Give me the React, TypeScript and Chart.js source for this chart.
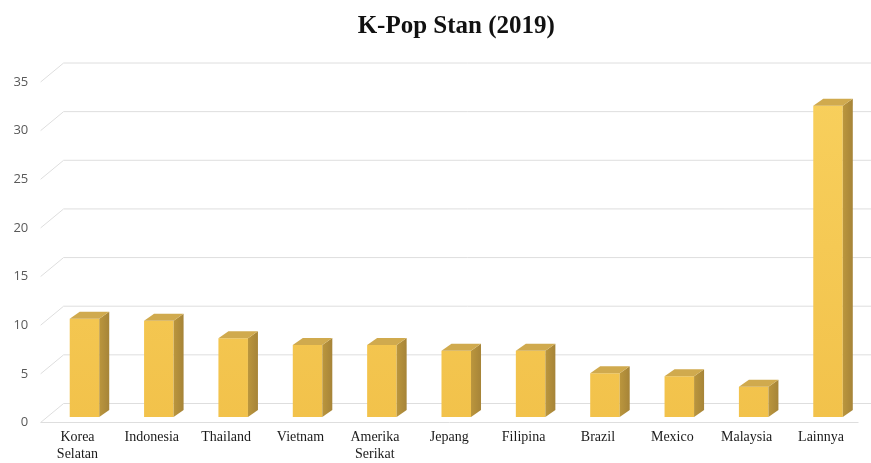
import React, { useEffect, useRef } from "react";
import { Chart, registerables } from "chart.js";

Chart.register(...registerables);

const titleText = "K-Pop Stan (2019)";
const categories: (string | string[])[] = [
  ["Korea", "Selatan"],
  "Indonesia",
  "Thailand",
  "Vietnam",
  ["Amerika", "Serikat"],
  "Jepang",
  "Filipina",
  "Brazil",
  "Mexico",
  "Malaysia",
  "Lainnya",
];
const values = [10.1, 9.9, 8.1, 7.4, 7.4, 6.8, 6.8, 4.5, 4.2, 3.1, 32];
const yMin = 0;
const yMax = 35;
const yStep = 5;

// 3D geometry (pixels)
const BAR_DX = 10;
const BAR_DY = -7;
const FRONT_DX = -6.7; // bar plane -> front edge of floor
const FRONT_DY = 5.5;
const BACK_DX = 16.3; // bar plane -> back wall
const BACK_DY = -13.5;

const gridColor = "#dedede";

const threeD = {
  id: "threeD",
  beforeDatasetsDraw(chart: any) {
    const { ctx, chartArea, scales } = chart;
    const ys = scales.y;
    ctx.save();
    ctx.lineWidth = 1;
    ctx.strokeStyle = gridColor;
    for (let v = yMin; v <= yMax; v += yStep) {
      const y = ys.getPixelForValue(v);
      const fx = chartArea.left + FRONT_DX;
      const fy = y + FRONT_DY;
      const bx = chartArea.left + BACK_DX;
      const by = y + BACK_DY;
      ctx.beginPath();
      ctx.moveTo(fx, fy);
      ctx.lineTo(bx, by);
      ctx.lineTo(chart.width + 20, by);
      ctx.stroke();
    }
    // front edge of floor
    const y0 = ys.getPixelForValue(0);
    ctx.beginPath();
    ctx.moveTo(chartArea.left + FRONT_DX, y0 + FRONT_DY);
    ctx.lineTo(chartArea.right + FRONT_DX, y0 + FRONT_DY);
    ctx.stroke();
    ctx.restore();
  },
  afterDatasetsDraw(chart: any) {
    const { ctx } = chart;
    const meta = chart.getDatasetMeta(0);
    ctx.save();
    meta.data.forEach((bar: any) => {
      const p = bar.getProps(["x", "y", "base", "width"], true);
      const l = p.x - p.width / 2;
      const r = p.x + p.width / 2;
      const top = p.y;
      const base = p.base;
      // side face
      const sg = ctx.createLinearGradient(r, 0, r + BAR_DX, 0);
      sg.addColorStop(0, "#bb963d");
      sg.addColorStop(1, "#a68438");
      ctx.fillStyle = sg;
      ctx.beginPath();
      ctx.moveTo(r, top);
      ctx.lineTo(r + BAR_DX, top + BAR_DY);
      ctx.lineTo(r + BAR_DX, base + BAR_DY);
      ctx.lineTo(r, base);
      ctx.closePath();
      ctx.fill();
      // top face
      ctx.fillStyle = "#d0aa4e";
      ctx.beginPath();
      ctx.moveTo(l, top);
      ctx.lineTo(l + BAR_DX, top + BAR_DY);
      ctx.lineTo(r + BAR_DX, top + BAR_DY);
      ctx.lineTo(r, top);
      ctx.closePath();
      ctx.fill();
    });
    ctx.restore();
  },
};

export default function App() {
  const ref = useRef<HTMLCanvasElement | null>(null);
  useEffect(() => {
    if (!ref.current) return;
    const chart = new Chart(ref.current, {
      type: "bar",
      data: {
        labels: categories,
        datasets: [
          {
            data: values,
            backgroundColor: (c: any) => {
              const area = c.chart.chartArea;
              if (!area) return "#f5c954";
              const g = c.chart.ctx.createLinearGradient(0, area.top, 0, area.bottom);
              g.addColorStop(0, "#f8d05d");
              g.addColorStop(1, "#f2c24b");
              return g;
            },
            borderWidth: 0,
            barPercentage: 0.397,
            categoryPercentage: 1,
          },
        ],
      },
      options: {
        animation: false,
        responsive: false,
        maintainAspectRatio: false,
        layout: { padding: { left: 0, right: 5.8, top: 0, bottom: 0 } },
        plugins: {
          legend: { display: false },
          tooltip: { enabled: false },
          title: {
            display: true,
            text: titleText,
            fullSize: false,
            color: "#111111",
            font: { family: "'Liberation Serif', 'Times New Roman', serif", size: 25, weight: "bold", lineHeight: 1.2 },
            padding: { top: 12, bottom: 34.5 },
          },
        },
        scales: {
          x: {
            grid: { display: false, drawTicks: false },
            border: { display: false },
            ticks: {
              color: "#1a1a1a",
              font: { family: "'Liberation Serif', 'Times New Roman', serif", size: 14, lineHeight: 1.2 },
              padding: 12,
              labelOffset: -7,
              maxRotation: 0,
              autoSkip: false,
            },
            afterFit: (s: any) => {
              s.height = 46;
            },
          },
          y: {
            min: yMin,
            max: yMax,
            grid: { display: false, drawTicks: false },
            border: { display: false },
            ticks: {
              stepSize: yStep,
              color: "#595959",
              font: { family: "'Open Sans', 'Liberation Sans', sans-serif", size: 13 },
              padding: 19,
              labelOffset: 5.5,
            },
            afterFit: (s: any) => {
              s.width = 47.3;
            },
          },
        },
      },
      plugins: [threeD],
    });
    return () => chart.destroy();
  }, []);
  return (
    <canvas
      ref={ref}
      width={871}
      height={463}
      style={{ position: "fixed", left: 0, top: 0, width: 871, height: 463, background: "#ffffff" }}
    />
  );
}
